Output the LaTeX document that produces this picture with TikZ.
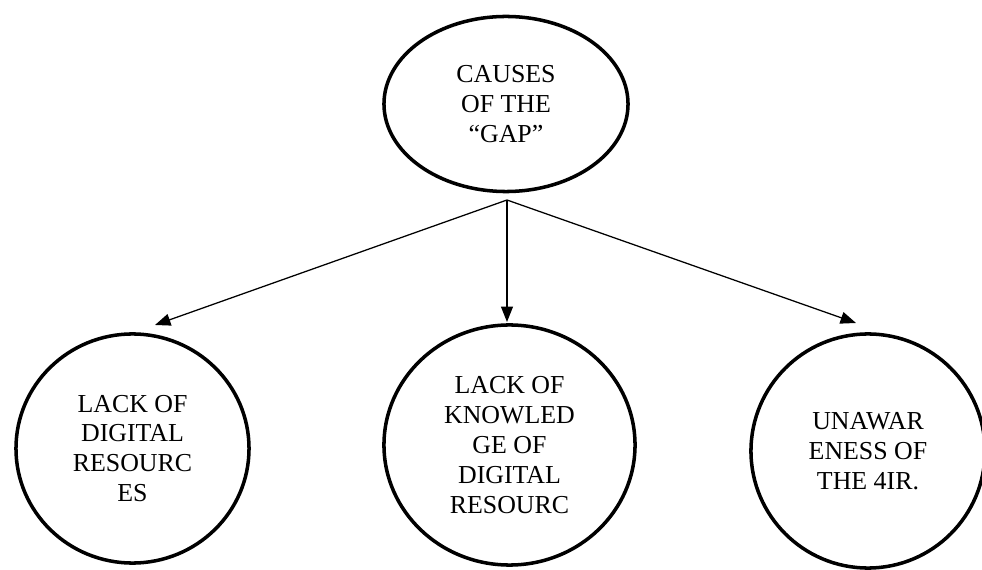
\documentclass[tikz,border=0pt]{standalone}
\usepackage{fontspec}
\setmainfont{Liberation Serif}
\usetikzlibrary{arrows.meta,shapes.geometric}

\begin{document}
\begin{tikzpicture}[x=0.025cm,y=-0.025cm,bubble/.style={shape=ellipse,draw=black,line width=2.5pt,inner sep=0pt,align=center,font=\fontsize{18.4}{21.3}\selectfont},arr/.style={line width=0.9pt,-{Triangle[length=11pt,width=8.5pt]}}]
\useasboundingbox[fill=white] (0,0) rectangle (982,570);

\node[bubble,minimum width=6.1cm,minimum height=4.375cm] (causes) at (506,104) {CAUSES\\OF THE\\“GAP”};

\node[bubble,minimum width=5.825cm,minimum height=5.725cm] (resources) at (132.5,448.5) {LACK OF\\DIGITAL\\RESOURC\\ES};
\node[bubble,minimum width=6.275cm,minimum height=6cm] (knowledge) at (509.5,445) {LACK OF\\KNOWLED\\GE OF\\DIGITAL\\RESOURC};
\node[bubble,minimum width=5.85cm,minimum height=5.85cm] (unaware) at (868,451) {UNAWAR\\ENESS OF\\THE 4IR.};

\coordinate (split) at (507,200);
\coordinate (tipA) at (155,325);
\coordinate (tipB) at (507,322);
\coordinate (tipC) at (856,323);

\draw[arr] (split) -- (tipA);
\draw[arr] (split) -- (tipB);
\draw[arr] (split) -- (tipC);

\end{tikzpicture}
\end{document}
